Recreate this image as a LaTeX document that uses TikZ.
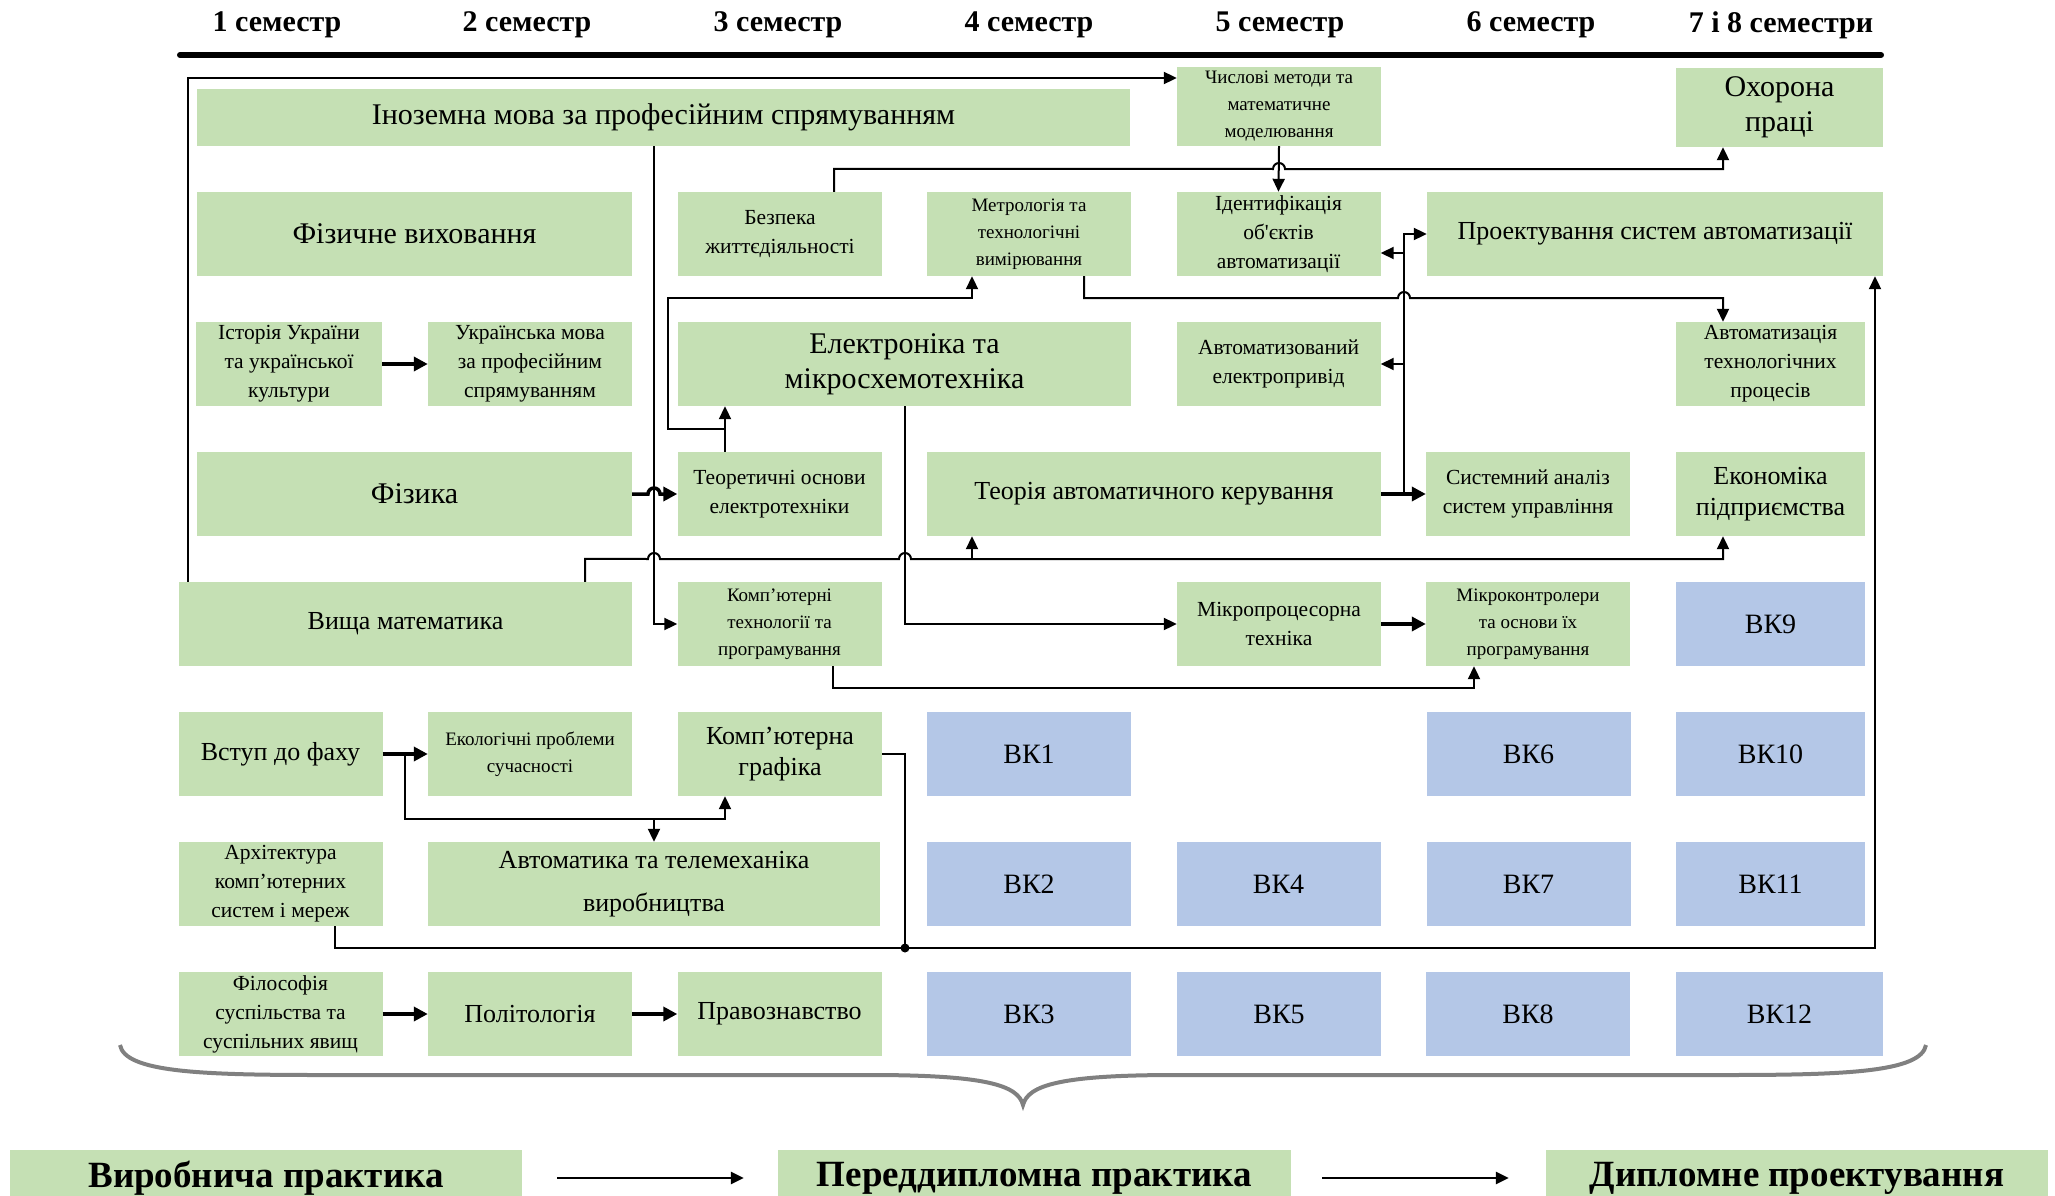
\documentclass[tikz,border=0pt]{standalone}
\usepackage{fontspec}
\setmainfont{Liberation Serif}
\newfontfamily\plainserif[Ligatures=TeXOff]{Liberation Serif}
\usepackage{tikz}
\usetikzlibrary{arrows.meta, calc}
\definecolor{subjgreen}{RGB}{197,224,180}
\definecolor{vkblue}{RGB}{180,199,231}
\definecolor{bracegray}{RGB}{128,128,128}

\tikzset{
  subj/.style={fill=subjgreen, align=center, inner sep=0pt, minimum width=204pt, minimum height=84pt},
  vk/.style={fill=vkblue, align=center, inner sep=0pt, minimum width=204pt, minimum height=84pt, font=\fontsize{28}{32}\selectfont},
  head/.style={font=\bfseries\fontsize{30}{34}\selectfont},
  practice/.style={fill=subjgreen, inner sep=0pt, minimum height=56pt, font=\bfseries\fontsize{37}{40}\selectfont},
  txtbig/.style={font=\fontsize{30}{35}\selectfont},
  txtlarge/.style={font=\fontsize{26}{31}\selectfont},
  txtmid/.style={font=\fontsize{21.5}{29}\selectfont},
  txtsmall/.style={font=\fontsize{19}{27}\selectfont},
  wire/.style={draw, line width=2pt},
  conn/.style={draw, line width=2pt, -{Triangle[length=13pt,width=12pt]}},
  flow/.style={draw, line width=3.5pt, -{Triangle[length=14pt,width=14pt]}},
  hop/.style={to path={-- ([xshift=-6pt]\tikztotarget) arc[start angle=180, end angle=0, radius=6pt]}}
}

\begin{document}
\begin{tikzpicture}[x=1pt, y=-1pt]
  \useasboundingbox (0,0) rectangle (2055,1196);
  % Semesters
  \node[head] (sem1) at (277,25) {1 семестр};
  \node[head] (sem2) at (527,25) {2 семестр};
  \node[head] (sem3) at (778,25) {3 семестр};
  \node[head] (sem4) at (1029,25) {4 семестр};
  \node[head] (sem5) at (1280,25) {5 семестр};
  \node[head] (sem6) at (1531,25) {6 семестр};
  \node[head] (sem7) at (1781,25) {7 і 8 семестри};
  \draw[line width=6pt, line cap=round] (180,55) -- (1881,55);

  % Row 1
  \node[subj, txtbig, minimum width=933pt, minimum height=57pt] (ino) at (663.5,117.5) {Іноземна мова за професійним спрямуванням};
  \node[subj, txtsmall, minimum height=79pt] (chysl) at (1279,106.5) {Числові методи та\\математичне\\моделювання};
  \node[subj, txtbig, minimum width=207pt, minimum height=79pt] (okh) at (1779.5,107.5) {Охорона\\праці};
  % Row 2
  \node[subj, txtbig, minimum width=435pt] (fizvyh) at (414.5,234) {Фізичне виховання};
  \node[subj, txtmid] (bezp) at (780,234) {Безпека\\життєдіяльності};
  \node[subj, txtsmall] (metr) at (1029,234) {Метрологія та\\технологічні\\вимірювання};
  \node[subj, txtmid] (ident) at (1278.5,234) {Ідентифікація\\об{\plainserif '}єктів\\автоматизації};
  \node[subj, txtlarge, minimum width=456pt] (proekt) at (1655,234) {Проектування систем автоматизації};
  % Row 3
  \node[subj, txtmid, minimum width=186pt] (ist) at (289,364) {Історія України\\та української\\культури};
  \node[subj, txtmid] (ukr) at (530,364) {Українська мова\\за професійним\\спрямуванням};
  \node[subj, txtbig, minimum width=453pt] (elek) at (904.5,364) {Електроніка та\\мікросхемотехніка};
  \node[subj, txtmid] (avtel) at (1278.5,364) {Автоматизований\\електропривід};
  \node[subj, txtmid, minimum width=189pt] (avttp) at (1770.5,364) {Автоматизація\\технологічних\\процесів};
  % Row 4
  \node[subj, txtbig, minimum width=435pt] (fiz) at (414.5,494) {Фізика};
  \node[subj, txtmid] (teor) at (779.5,494) {Теоретичні основи\\електротехніки};
  \node[subj, txtlarge, minimum width=454pt] (tak) at (1154,494) {Теорія автоматичного керування};
  \node[subj, txtmid] (sys) at (1528,494) {Системний аналіз\\систем управління};
  \node[subj, txtlarge, minimum width=189pt] (ekon) at (1770.5,494) {Економіка\\підприємства};
  % Row 5
  \node[subj, txtlarge, minimum width=453pt] (vyshmat) at (405.5,624) {Вища математика};
  \node[subj, txtsmall] (komptech) at (779.5,624) {Комп’ютерні\\технології та\\програмування};
  \node[subj, txtmid] (mproc) at (1279,624) {Мікропроцесорна\\техніка};
  \node[subj, txtsmall] (mcontr) at (1528,624) {Мікроконтролери\\та основи їх\\програмування};
  \node[vk, minimum width=189pt] (vk9) at (1770.5,624) {ВК9};
  % Row 6
  \node[subj, txtlarge] (vstup) at (280.5,754) {Вступ до фаху};
  \node[subj, txtsmall] (ekol) at (530,754) {Екологічні проблеми\\сучасності};
  \node[subj, txtlarge] (kgraf) at (780,754) {Комп’ютерна\\графіка};
  \node[vk] (vk1) at (1029,754) {ВК1};
  \node[vk] (vk6) at (1528.5,754) {ВК6};
  \node[vk, minimum width=189pt] (vk10) at (1770.5,754) {ВК10};
  % Row 7
  \node[subj, txtmid] (arch) at (280.5,884) {Архітектура\\комп’ютерних\\систем і мереж};
  \node[subj, font=\fontsize{26}{43}\selectfont, minimum width=452pt] (avtm) at (654,884) {Автоматика та телемеханіка\\виробництва};
  \node[vk] (vk2) at (1029,884) {ВК2};
  \node[vk] (vk4) at (1278.5,884) {ВК4};
  \node[vk] (vk7) at (1528.5,884) {ВК7};
  \node[vk, minimum width=189pt] (vk11) at (1770.5,884) {ВК11};
  % Row 8
  \node[subj, txtmid] (fil) at (280.5,1014) {Філософія\\суспільства та\\суспільних явищ};
  \node[subj, txtlarge] (pol) at (530,1014) {Політологія};
  \node[subj, txtlarge] (prav) at (779.5,1014) {Правознавство};
  \node[vk] (vk3) at (1029,1014) {ВК3};
  \node[vk] (vk5) at (1279,1014) {ВК5};
  \node[vk] (vk8) at (1528,1014) {ВК8};
  \node[vk, minimum width=207pt] (vk12) at (1779.5,1014) {ВК12};

  % Crossing and junction points
  \coordinate (h1) at (654,494);
  \coordinate (h9a) at (654,559);
  \coordinate (h9b) at (905,559);
  \coordinate (h7) at (1279,169);
  \coordinate (h5) at (1404,298);
  \coordinate (j1) at (725,429);
  \coordinate (b1) at (668,298);
  \coordinate (j2) at (1404,494);
  \coordinate (j3) at (972,559);
  \coordinate (j4) at (405,754);
  \coordinate (j5) at (654,819);
  \coordinate (j6) at (905,948);

  % Connectors
  \draw[conn] ([xshift=9pt]vyshmat.north west) |- ([yshift=28.5pt]chysl.west);
  \draw[conn] ([xshift=-9.5pt]ino.south) |- (komptech.west);
  \draw[conn] (chysl.south) -- (ident.north);
  \draw[conn] ([xshift=54pt]bezp.north) -- ++(0,-23) to[hop] (h7) -| ([xshift=-56.5pt]okh.south);
  \draw[conn] ([xshift=55pt]metr.south) -- ++(0,22) to[hop] (h5) -| ([xshift=-47.5pt]avttp.north);
  \draw[flow] (ist.east) -- (ukr.west);
  \draw[flow] (fiz.east) to[hop] (h1) -- (teor.west);
  \draw[conn] ([xshift=-54.5pt]teor.north) -- (j1 |- elek.south);
  \draw[conn] (j1) -| (b1) -| ([xshift=-57pt]metr.south);
  \draw[flow] (tak.east) -- (sys.west);
  \draw[conn] (j2) |- (proekt.west);
  \draw[conn] (j2) |- ([yshift=-19pt]ident.east);
  \draw[conn] (j2) |- (avtel.east);
  \draw[conn] ([xshift=179.5pt]vyshmat.north) -- ++(0,-23) to[hop] (h9a) to[hop] (h9b) -| ([xshift=-47.5pt]ekon.south);
  \draw[conn] (j3) -- (j3 |- tak.south);
  \draw[conn] (elek.south) |- (mproc.west);
  \draw[flow] (mproc.east) -- (mcontr.west);
  \draw[conn] ([xshift=53.5pt]komptech.south) -- ++(0,22) -| ([xshift=-54pt]mcontr.south);
  \draw[flow] (vstup.east) -- (ekol.west);
  \draw[conn] (j4) -- ++(0,65) -| ([xshift=-55pt]kgraf.south);
  \draw[conn] (j5) -- (avtm.north);
  \draw[wire] (kgraf.east) -| (j6);
  \draw[conn] ([xshift=54.5pt]arch.south) |- (j6) -| ([xshift=220pt]proekt.south);
  \fill (j6) circle (4.5pt);
  \draw[flow] (fil.east) -- (pol.west);
  \draw[flow] (pol.east) -- (prav.west);

  % Brace
  \draw[bracegray, line width=4pt] (120,1045) .. controls (125,1072) and (200,1075) .. (320,1075)
    -- (870,1075) .. controls (985,1075) and (1018,1085) .. (1023,1105)
    .. controls (1028,1085) and (1061,1075) .. (1176,1075)
    -- (1726,1075) .. controls (1846,1075) and (1921,1072) .. (1926,1045);

  % Practice
  \node[practice, minimum width=512pt] (vyrob) at (266,1178) {Виробнича практика};
  \node[practice, minimum width=513pt] (peredd) at (1034.5,1178) {Переддипломна практика};
  \node[practice, minimum width=502pt] (dypl) at (1797,1178) {Дипломне проектування};
  \draw[conn, line width=2.5pt] ([xshift=35pt]vyrob.east) -- ([xshift=-34pt]peredd.west);
  \draw[conn, line width=2.5pt] ([xshift=31pt]peredd.east) -- ([xshift=-37pt]dypl.west);
\end{tikzpicture}
\end{document}
